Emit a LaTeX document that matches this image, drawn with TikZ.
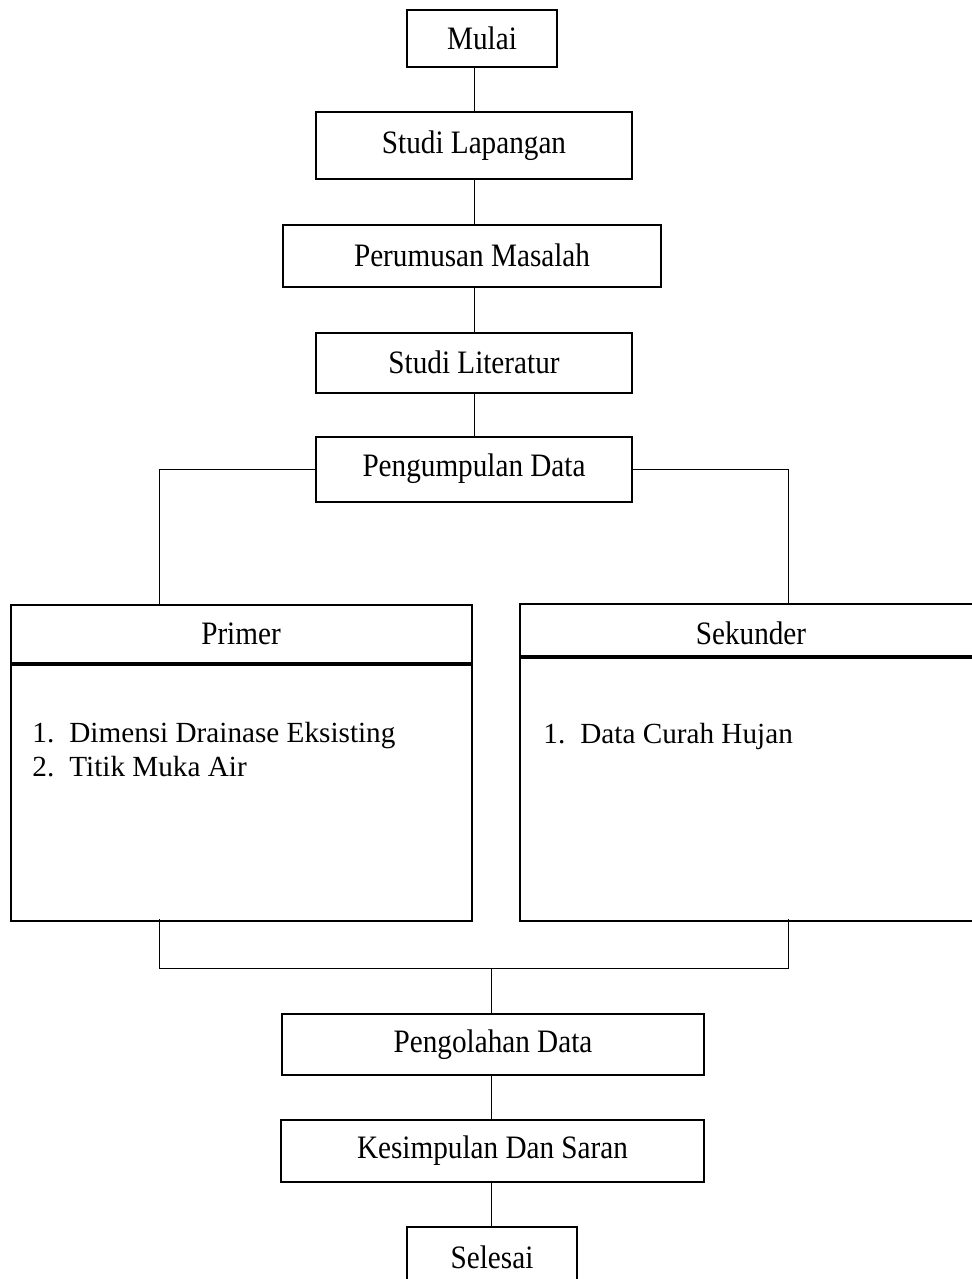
\documentclass[tikz,border=0pt]{standalone}
\usepackage{fontspec}
\setmainfont{Liberation Serif}
\tikzset{
  kotak/.style={draw, line width=1pt, inner sep=0pt, align=center},
  garis/.style={line width=0.5pt},
  butir/.style={anchor=base west, inner sep=0pt}
}
\newcommand{\nomor}[1]{\makebox[18.5pt][l]{#1}}
\newcommand{\tulis}[1]{\scalebox{1}[1.12]{#1}}

\begin{document}
\begin{tikzpicture}[x=0.5pt,y=-0.5pt]

\def\lebar{971}
\def\tinggi{1279}
\def\xkiri{159}
\def\xkanan{788}
\def\ygabung{968}

\fontsize{14.6}{17}\selectfont
\path [use as bounding box] (0,0) rectangle (\lebar,\tinggi);

% ALUR ATAS
\node [kotak, minimum width=75pt, minimum height=28.5pt] (mulai) at (482,38.5) {\tulis{Mulai}};
\node [kotak, minimum width=158pt, minimum height=33pt] (lapangan) at (474,145.5) {\tulis{Studi Lapangan}};
\node [kotak, minimum width=189pt, minimum height=31pt] (masalah) at (472,255.5) {\tulis{Perumusan Masalah}};
\node [kotak, minimum width=158pt, minimum height=30pt] (literatur) at (474,362.5) {\tulis{Studi Literatur}};
\node [kotak, minimum width=158pt, minimum height=32.5pt] (pengumpulan) at (474,469) {\tulis{Pengumpulan Data}};

% DATA
\node [kotak, minimum width=230.5pt, minimum height=29pt] (primer) at (241,633.5) {\tulis{Primer}};
\node [kotak, minimum width=230.5pt, minimum height=128pt, anchor=north] (isiprimer) at (primer.south) {};
\node [kotak, minimum width=231pt, minimum height=26pt, text height=1.03em] (sekunder) at (751,630) {\tulis{Sekunder}};
\node [kotak, minimum width=231pt, minimum height=131.5pt, anchor=north] (isisekunder) at (sekunder.south) {};

\node [butir] (p1) at (32,742) {\nomor{1.}Dimensi Drainase Eksisting};
\node [butir] (p2) at (32,776) {\nomor{2.}Titik Muka Air};
\node [butir] (s1) at (543,743) {\nomor{1.}Data Curah Hujan};

% ALUR BAWAH
\node [kotak, minimum width=211pt, minimum height=30.5pt] (pengolahan) at (493,1044.5) {\tulis{Pengolahan Data}};
\node [kotak, minimum width=211.5pt, minimum height=31pt] (kesimpulan) at (492.5,1151) {\tulis{Kesimpulan Dan Saran}};
\node [kotak, minimum width=85pt, minimum height=30.5pt] (selesai) at (492,1257.5) {\tulis{Selesai}};

% CABANG
\coordinate (cabangkiri) at (\xkiri,604);
\coordinate (cabangkanan) at (\xkanan,604);
\coordinate (bawahkiri) at (\xkiri,919);
\coordinate (bawahkanan) at (\xkanan,919);
\coordinate (gabung) at (491,\ygabung);

% GARIS
\draw [garis] (mulai.south -| lapangan.north) -- (lapangan.north);
\draw [garis] (lapangan.south) -- (lapangan.south |- masalah.north);
\draw [garis] (literatur.north |- masalah.south) -- (literatur.north);
\draw [garis] (literatur.south) -- (pengumpulan.north);
\draw [garis] (pengumpulan.west) -| (cabangkiri);
\draw [garis] (pengumpulan.east) -| (cabangkanan);
\draw [garis] (bawahkiri) |- (gabung) -| (bawahkanan);
\draw [garis] (gabung) -- (gabung |- pengolahan.north);
\draw [garis] (pengolahan.south -| gabung) -- (kesimpulan.north -| gabung);
\draw [garis] (kesimpulan.south -| gabung) -- (selesai.north -| gabung);

\end{tikzpicture}
\end{document}
